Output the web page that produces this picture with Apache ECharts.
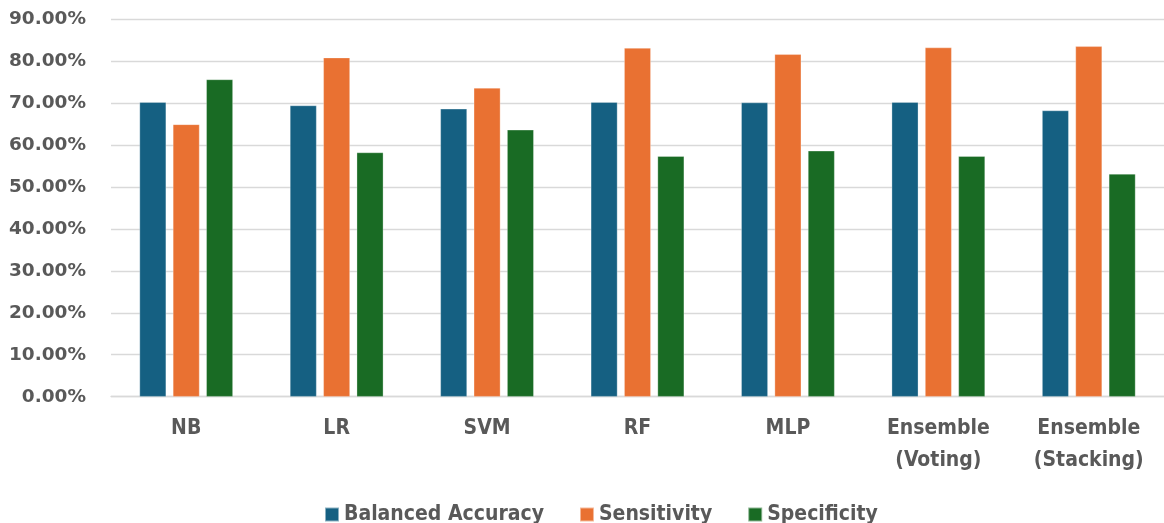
<!DOCTYPE html>
<html>
<head>
<meta charset="utf-8">
<script src="https://cdn.jsdelivr.net/npm/echarts@6/dist/echarts.min.js"></script>
<style>
html,body{margin:0;padding:0;background:#fff;}
#chart{width:1164px;height:523px;}
</style>
</head>
<body>
<div id="chart"></div>
<script>
var models=["NB","LR","SVM","RF","MLP","Ensemble\n(Voting)","Ensemble\n(Stacking)"]
var balancedAccuracy=[70.2,69.4,68.6,70.2,70.1,70.2,68.2]
var sensitivity=[64.9,80.8,73.6,83.1,81.6,83.2,83.5]
var specificity=[75.6,58.2,63.6,57.3,58.6,57.3,53.1]

var mychart=echarts.init(document.getElementById('chart'));
var gridColor='#d9d9d9'
var txtColor='#595959'
var condFont='"DejaVu Sans Condensed", "Liberation Sans Narrow", sans-serif'

function bar(name,data,color){
	return {
		name:name,
		type:'bar',
		barWidth:26.7,
		barGap:'25%',
		itemStyle:{color:color,borderColor:'rgba(255,255,255,0.5)',borderWidth:0.6},
		data:data
	}
}

var option={
	animation:false,
	color:["#156082","#e97132","#196b24"],
	grid:{left:111,top:19,width:1062,height:377.7},
	legend:{
		top:499,
		left:319,
		itemWidth:14,
		itemHeight:14,
		itemGap:35,
		icon:'rect',
		textStyle:{color:txtColor,fontSize:21,fontWeight:'bold',fontFamily:condFont},
		data:["Balanced Accuracy","Sensitivity","Specificity"]
	},
	xAxis:{
		type:'category',
		data:models,
		axisLine:{lineStyle:{color:gridColor,width:1.3}},
		axisTick:{show:false},
		axisLabel:{
			color:txtColor,fontSize:21,fontWeight:'bold',fontFamily:condFont,
			lineHeight:32,margin:16,interval:0
		}
	},
	yAxis:{
		type:'value',
		min:0,max:90,interval:10,
		axisLine:{show:false},
		axisTick:{show:false},
		splitLine:{lineStyle:{color:gridColor,width:1.3}},
		axisLabel:{
			color:txtColor,fontSize:18.5,fontWeight:'bold',
			fontFamily:'"DejaVu Sans", sans-serif',margin:25,
			formatter:function(v){return v.toFixed(2)+'%'}
		}
	},
	series:[
		bar("Balanced Accuracy",balancedAccuracy,"#156082"),
		bar("Sensitivity",sensitivity,"#e97132"),
		bar("Specificity",specificity,"#196b24")
	]
};
mychart.setOption(option);
</script>
</body>
</html>
